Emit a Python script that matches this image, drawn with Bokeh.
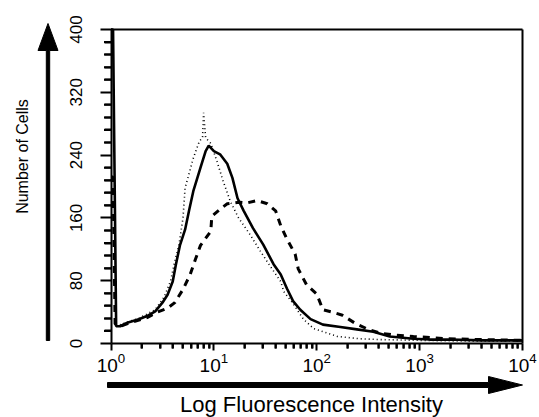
import math
from bokeh.plotting import figure
from bokeh.models import Range1d, FixedTicker, LogTickFormatter, Label, PolyAnnotation
from bokeh.embed import file_html
from bokeh.resources import INLINE

# ---- data (fluorescence intensity, number of cells) ----
solid_x = [1.0, 1.047, 1.122, 1.230, 1.413, 1.862, 2.239, 2.692, 3.162, 3.548, 3.981, 4.266,
           4.677, 5.248, 5.754, 6.310, 7.413, 8.318, 8.913, 10.0, 11.48, 13.49, 15.14, 16.98,
           19.50, 23.99, 30.20, 38.02, 44.67, 51.29, 58.88, 69.18, 87.10, 114.8, 169.8, 245.5,
           354.8, 512.9, 871.0, 1259, 1995, 3981, 7943, 10000]
solid_y = [400, 400, 22, 22, 26, 31, 35, 41, 52, 62, 79, 100,
           125, 145, 170, 194, 224, 245, 252, 245, 241, 229, 211, 185,
           169, 147, 126, 101, 88, 70, 54, 43, 31, 24, 21, 18,
           15, 9, 6, 5, 5, 4, 4, 4]

dotted_x = [1.122, 1.413, 1.862, 2.692, 3.311, 3.802, 4.169, 4.571, 5.012, 5.248, 6.310, 7.244,
            7.762, 7.943, 8.318, 9.333, 10.72, 12.30, 14.45, 17.38, 22.39, 28.18, 35.48, 44.67,
            47.86, 58.88, 74.13, 93.33, 158.5, 263.0, 416.9, 1000, 3162, 10000]
dotted_y = [22, 27, 32, 43, 60, 80, 105, 125, 160, 198, 236, 258,
            262, 294, 262, 255, 232, 207, 181, 160, 139, 118, 98, 79,
            66, 51, 31, 19, 9, 6, 5, 4, 3, 3]

dashed_x = [1.0, 1.047, 1.096, 1.230, 1.585, 2.239, 2.818, 3.548, 4.169, 5.012, 5.888, 6.607,
            7.413, 9.333, 9.550, 11.48, 13.49, 17.78, 20.89, 26.30, 33.11, 39.81, 44.67, 51.29,
            61.66, 66.07, 79.43, 100.0, 114.8, 141.3, 177.8, 234.4, 316.2, 416.9, 549.5, 871.0,
            1862, 3981, 10000]
dashed_y = [212, 212, 25, 22, 27, 33, 40, 45, 52, 69, 88, 107,
            125, 143, 162, 171, 178, 180, 179, 182, 178, 169, 150, 133,
            114, 95, 75, 63, 43, 40, 36, 26, 18, 13, 11, 9,
            6, 5, 4]

x_major = [1, 10, 100, 1000, 10000]
x_minor = [m * d for d in (1, 10, 100, 1000) for m in range(2, 10)]
y_ticks = [0, 80, 160, 240, 320, 400]
y_minor = [v for v in range(0, 401, 16) if v not in y_ticks]

y_title = "Number of Cells"
x_title = "Log Fluorescence Intensity"

FONT = "Liberation Sans"

# ---- layout (pixels on the 539x417 canvas) ----
W, H = 539, 417
BOX_L, BOX_R, BOX_T, BOX_B = 110.5, 522.0, 29.0, 343.0
X_LO, X_HI = 1.0, 10000.0
Y_LO, Y_HI = 0.0, 400.0
px_per_dec = (BOX_R - BOX_L) / (math.log10(X_HI) - math.log10(X_LO))
px_per_unit = (BOX_B - BOX_T) / (Y_HI - Y_LO)
x_start = 10 ** (math.log10(X_LO) - BOX_L / px_per_dec)
x_end = 10 ** (math.log10(X_HI) + (W - BOX_R) / px_per_dec)
y_start = Y_LO - (H - BOX_B) / px_per_unit
y_end = Y_HI + BOX_T / px_per_unit

p = figure(width=W, height=H, x_axis_type="log", title=None,
           x_range=Range1d(x_start, x_end), y_range=Range1d(y_start, y_end),
           output_backend="svg", toolbar_location=None, min_border=0)
p.xgrid.visible = False
p.ygrid.visible = False
p.outline_line_color = None
p.background_fill_color = "white"
p.border_fill_color = "white"

# main y axis at x = 1
ya = p.yaxis[0]
ya.fixed_location = X_LO
ya.bounds = (Y_LO, Y_HI)
ya.ticker = FixedTicker(ticks=y_ticks, minor_ticks=y_minor)
ya.major_label_orientation = "vertical"
ya.major_label_text_font = FONT
ya.major_label_text_font_size = "17px"
ya.major_label_text_color = "black"
ya.axis_line_width = 2
ya.axis_line_color = "black"
ya.major_tick_out = 11
ya.major_tick_in = 0
ya.major_tick_line_width = 2
ya.minor_tick_out = 7
ya.minor_tick_in = 0
ya.minor_tick_line_width = 2
ya.minor_tick_line_color = "black"
ya.major_label_standoff = 18

# main x axis at y = 0
xa = p.xaxis[0]
xa.fixed_location = Y_LO
xa.bounds = (X_LO, X_HI)
xa.ticker = FixedTicker(ticks=x_major, minor_ticks=x_minor)
xa.formatter = LogTickFormatter()
xa.major_label_text_font = FONT
xa.major_label_text_font_size = "19px"
xa.major_label_text_color = "black"
xa.axis_line_width = 2
xa.axis_line_color = "black"
xa.major_tick_out = 7
xa.major_tick_in = 0
xa.major_tick_line_width = 2
xa.minor_tick_out = 5
xa.minor_tick_in = 0
xa.minor_tick_line_width = 2
xa.minor_tick_line_color = "black"
xa.major_label_standoff = 2

# minor tick marks, also drawn through the scales so they always show
x_tick_len = 5 / px_per_unit
p.segment(x0=x_minor, y0=[Y_LO] * len(x_minor), x1=x_minor, y1=[Y_LO - x_tick_len] * len(x_minor),
          line_color="black", line_width=2)
y_tick_end = 10 ** (math.log10(X_LO) - 7 / px_per_dec)
p.segment(x0=[X_LO] * len(y_minor), y0=y_minor, x1=[y_tick_end] * len(y_minor), y1=y_minor,
          line_color="black", line_width=2)

# top and right edges of the plot box
p.segment(x0=[X_LO, X_HI], y0=[Y_HI, Y_LO], x1=[X_HI, X_HI], y1=[Y_HI, Y_HI],
          line_color="black", line_width=2)

# data
p.line(dotted_x, dotted_y, line_color="black", line_width=1.6, line_dash="1 3")
p.line(dashed_x, dashed_y, line_color="black", line_width=3, line_dash="7 6")
p.line(solid_x, solid_y, line_color="black", line_width=2.6)

# titles (screen units: x from left, y up from bottom of the canvas)
p.add_layout(Label(x=22, y=H - 156, x_units="screen", y_units="screen", text=y_title,
                   angle=math.pi / 2, text_align="center", text_baseline="middle",
                   text_font=FONT, text_font_size="16px", text_color="black"))
p.add_layout(Label(x=311, y=H - 403.5, x_units="screen", y_units="screen", text=x_title,
                   text_align="center", text_baseline="middle",
                   text_font=FONT, text_font_size="22px", text_color="black"))

# arrows (polygons in screen units)
vx, v_bot, v_tip, v_base, v_hw, v_sw = 47.5, 340, 23, 50, 10, 1.7
p.add_layout(PolyAnnotation(
    xs=[vx - v_sw, vx - v_sw, vx - v_hw, vx, vx + v_hw, vx + v_sw, vx + v_sw],
    ys=[H - v_bot, H - v_base, H - v_base, H - v_tip, H - v_base, H - v_base, H - v_bot],
    xs_units="screen", ys_units="screen",
    fill_color="black", fill_alpha=1.0, line_color="black", line_alpha=1.0, line_width=1))
hy, h_start, h_tip, h_base, h_hw, h_sw = 384.5, 107, 522, 488, 8.5, 2.5
p.add_layout(PolyAnnotation(
    xs=[h_start, h_base, h_base, h_tip, h_base, h_base, h_start],
    ys=[H - hy + h_sw, H - hy + h_sw, H - hy + h_hw, H - hy, H - hy - h_hw, H - hy - h_sw, H - hy - h_sw],
    xs_units="screen", ys_units="screen",
    fill_color="black", fill_alpha=1.0, line_color="black", line_alpha=1.0, line_width=1))

open("out.html", "w").write(file_html(p, INLINE))
